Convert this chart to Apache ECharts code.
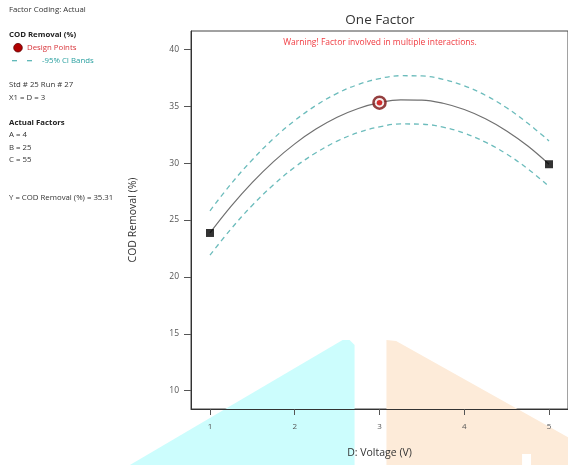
<!DOCTYPE html>
<html>
<head>
<meta charset="utf-8">
<script src="https://cdn.jsdelivr.net/npm/echarts@6/dist/echarts.min.js"></script>
<style>
html,body{margin:0;padding:0;background:#fff;}
#chart{width:568px;height:465px;}
</style>
</head>
<body>
<div id="chart"></div>
<script>
// ---- data ----
const voltage = [1, 1.25, 1.5, 1.75, 2, 2.25, 2.5, 2.75, 3, 3.25, 3.5, 3.75, 4, 4.25, 4.5, 4.75, 5];
const predicted = [23.86, 26.21, 28.30, 30.13, 31.69, 32.99, 34.03, 34.80, 35.31, 35.56, 35.54, 35.26, 34.71, 33.90, 32.83, 31.50, 29.90];
const upperCI = [25.81, 28.19, 30.30, 32.16, 33.74, 35.07, 36.13, 36.91, 37.43, 37.68, 37.66, 37.36, 36.79, 35.96, 34.86, 33.50, 31.95];
const lowerCI = [21.91, 24.23, 26.30, 28.10, 29.64, 30.91, 31.93, 32.69, 33.19, 33.44, 33.42, 33.16, 32.63, 31.84, 30.80, 29.50, 27.95];
const designX = [1, 5];
const designY = [23.86, 29.90];
const currentX = [3];
const currentY = [35.31];
const xTicks = [1, 2, 3, 4, 5];
const yTicks = [10, 15, 20, 25, 30, 35, 40];
const xRange = [0.776, 5.224];
const yRange = [8.39, 41.61];
// background shapes (low / high side of factor range), in data units
const lowShape = [[-0.28, 2], [2.565, 14.46], [2.647, 14.46], [2.706, 14.02], [2.706, 2]];
const highShape = [[3.082, 2], [3.082, 14.46], [3.196, 14.37], [5.35, 5.37], [5.35, 2], [4.788, 2], [4.788, 4.43], [4.682, 4.43], [4.682, 2]];

const shapes = [lowShape, highShape];
const shapeFills = ['#ccfdfd', '#fdebd9'];
const FONT = 'Open Sans';

const chart = echarts.init(document.getElementById('chart'), null, {renderer: 'canvas'});

const pair = (xs, ys) => xs.map((x, i) => [x, ys[i]]);

const option = {
  animation: false,
  backgroundColor: '#fff',
  textStyle: {fontFamily: FONT},
  grid: {left: 191, top: 31, width: 378, height: 378, show: true, borderColor: '#444', borderWidth: 1, backgroundColor: 'transparent'},
  xAxis: {
    type: 'value', min: xRange[0], max: xRange[1], z: 5,
    name: 'D: Voltage (V)', nameLocation: 'middle', nameGap: 39,
    nameTextStyle: {fontFamily: FONT, fontSize: 10.5, color: '#333'},
    axisLine: {show: true, lineStyle: {color: '#333', width: 1}},
    axisTick: {show: true, length: 6, lineStyle: {color: '#555'}, customValues: xTicks},
    axisLabel: {fontFamily: FONT, fontSize: 8, color: '#555', margin: 14, customValues: xTicks},
    splitLine: {show: false}
  },
  yAxis: {
    type: 'value', min: yRange[0], max: yRange[1], z: 5,
    name: 'COD Removal (%)', nameLocation: 'middle', nameGap: 52, nameRotate: 90,
    nameTextStyle: {fontFamily: FONT, fontSize: 10.5, color: '#333'},
    axisLine: {show: true, lineStyle: {color: '#333', width: 1}},
    axisTick: {show: true, length: 7, lineStyle: {color: '#555'}, customValues: yTicks},
    axisLabel: {fontFamily: FONT, fontSize: 8.5, color: '#555', margin: 12, customValues: yTicks},
    splitLine: {show: false}
  },
  series: [
    {
      type: 'custom', z: 1, clip: false, silent: true,
      data: shapes.map(s => s[0]),
      renderItem: function (params, api) {
        const pts = shapes[params.dataIndex].map(p => api.coord(p));
        return {type: 'polygon', shape: {points: pts}, style: {fill: shapeFills[params.dataIndex]}};
      }
    },
    {
      type: 'line', data: pair(voltage, upperCI), smooth: 0.4, showSymbol: false, z: 3,
      lineStyle: {color: '#6cbcbc', width: 1.3, type: [5, 4]}
    },
    {
      type: 'line', data: pair(voltage, lowerCI), smooth: 0.4, showSymbol: false, z: 3,
      lineStyle: {color: '#6cbcbc', width: 1.3, type: [5, 4]}
    },
    {
      type: 'line', data: pair(voltage, predicted), smooth: 0.4, showSymbol: false, z: 3,
      lineStyle: {color: '#707070', width: 1.2}
    },
    {
      type: 'scatter', data: pair(designX, designY), symbol: 'rect', symbolSize: 8, z: 4,
      itemStyle: {color: '#000'}
    },
    {
      type: 'scatter', data: pair(currentX, currentY), symbol: 'circle', symbolSize: 12, z: 4,
      itemStyle: {color: '#f4e8e8', borderColor: '#7a1010', borderWidth: 2.5}
    },
    {
      type: 'scatter', data: pair(currentX, currentY), symbol: 'circle', symbolSize: 5.5, z: 4,
      itemStyle: {color: '#cc0000'}
    }
  ],
  graphic: [
    {type: 'text', x: 380, y: 20.5, style: {text: 'One Factor', font: '13.5px "' + FONT + '"', fill: '#333', align: 'center', verticalAlign: 'middle'}},
    {type: 'text', x: 380, y: 42.5, style: {text: 'Warning! Factor involved in multiple interactions.', font: '8.5px "' + FONT + '"', fill: '#f03a40', align: 'center', verticalAlign: 'middle'}},
    {type: 'text', x: 9, y: 10, style: {text: 'Factor Coding: Actual', font: '7.8px "' + FONT + '"', fill: '#333', verticalAlign: 'middle'}},
    {type: 'text', x: 9, y: 35, style: {text: 'COD Removal (%)', font: 'bold 7.8px "' + FONT + '"', fill: '#222', verticalAlign: 'middle'}},
    {type: 'circle', shape: {cx: 18, cy: 47.7, r: 4.3}, style: {fill: '#b00000', stroke: '#600000', lineWidth: 0.8}},
    {type: 'text', x: 27, y: 47.7, style: {text: 'Design Points', font: '7.8px "' + FONT + '"', fill: '#d8343a', verticalAlign: 'middle'}},
    {type: 'line', shape: {x1: 12, y1: 60.7, x2: 34, y2: 60.7}, style: {stroke: '#2fa3a3', lineWidth: 1.1, lineDash: [5, 10]}},
    {type: 'text', x: 42, y: 60.7, style: {text: '-95% CI Bands', font: '7.8px "' + FONT + '"', fill: '#2aa0a0', verticalAlign: 'middle'}},
    {type: 'text', x: 9, y: 85, style: {text: 'Std # 25 Run # 27', font: '7.8px "' + FONT + '"', fill: '#333', verticalAlign: 'middle'}},
    {type: 'text', x: 9, y: 97.7, style: {text: 'X1 = D = 3', font: '7.8px "' + FONT + '"', fill: '#333', verticalAlign: 'middle'}},
    {type: 'text', x: 9, y: 122.7, style: {text: 'Actual Factors', font: 'bold 7.8px "' + FONT + '"', fill: '#222', verticalAlign: 'middle'}},
    {type: 'text', x: 9, y: 135, style: {text: 'A = 4', font: '7.8px "' + FONT + '"', fill: '#333', verticalAlign: 'middle'}},
    {type: 'text', x: 9, y: 147.3, style: {text: 'B = 25', font: '7.8px "' + FONT + '"', fill: '#333', verticalAlign: 'middle'}},
    {type: 'text', x: 9, y: 160, style: {text: 'C = 55', font: '7.8px "' + FONT + '"', fill: '#333', verticalAlign: 'middle'}},
    {type: 'text', x: 9, y: 197.7, style: {text: 'Y = COD Removal (%) = 35.31', font: '7.8px "' + FONT + '"', fill: '#333', verticalAlign: 'middle'}}
  ]
};
chart.setOption(option);
</script>
</body>
</html>
